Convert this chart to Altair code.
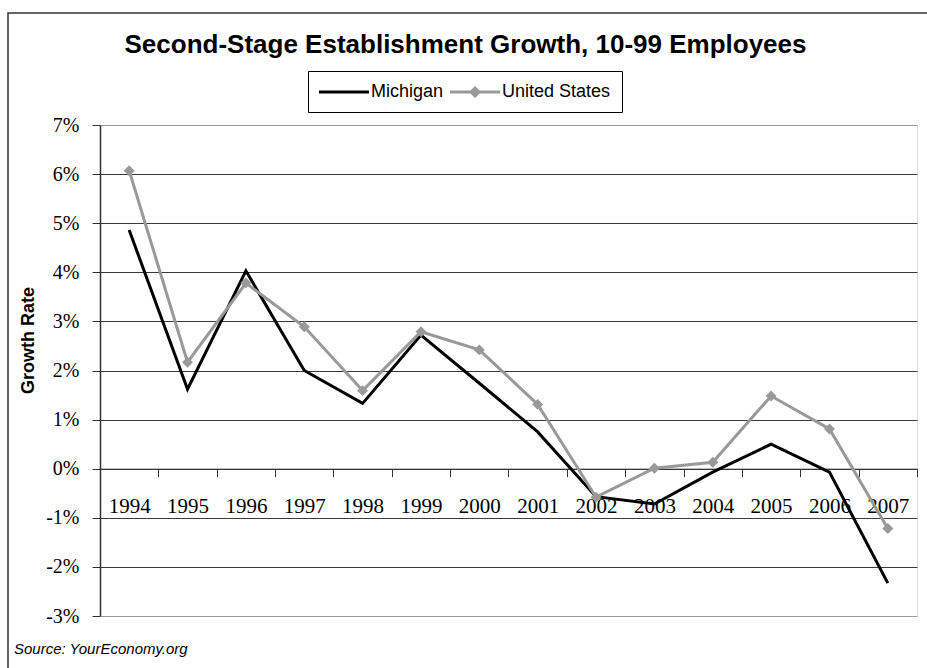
import altair as alt
import pandas as pd

years = [str(y) for y in range(1994, 2008)]
michigan = [4.86, 1.62, 4.03, 2.00, 1.33, 2.72, 1.74, 0.75, -0.57, -0.72, -0.07, 0.50, -0.07, -2.33]
united_states = [6.07, 2.17, 3.78, 2.89, 1.59, 2.79, 2.42, 1.31, -0.58, 0.01, 0.13, 1.48, 0.81, -1.22]
series_names = ["Michigan", "United States"]
series_colors = ["#000000", "#999999"]
y_ticks = list(range(-3, 8))
title_text = "Second-Stage Establishment Growth, 10-99 Employees"
y_title = "Growth Rate"
source_text = "Source: YourEconomy.org"

rows = []
for i, yr in enumerate(years):
    rows.append({"year": yr, "series": series_names[0], "value": michigan[i]})
    rows.append({"year": yr, "series": series_names[1], "value": united_states[i]})
df = pd.DataFrame(rows)

W, H = 817, 491
PL, PT = 100, 125

x_scale = alt.Scale(type="band", domain=years, paddingInner=0, paddingOuter=0)
y_scale = alt.Scale(domain=[-3, 7], nice=False, zero=False)
color_scale = alt.Scale(domain=series_names, range=series_colors)

grid_color = {"condition": {"test": "datum.value == 7 || datum.value == -3", "value": "#9a9a9a"},
              "value": "#3a3a3a"}

x_axis = alt.Axis(title=None, offset=-(H * 0.3), tickBand="extent", tickSize=8, tickColor="#333333",
                  domainColor="#333333", domainWidth=1, labelAngle=0, labelFont="Liberation Serif",
                  labelFontSize=21, labelColor="black", labelBaseline="alphabetic", labelPadding=36,
                  labelOverlap=False, grid=False)
y_axis = alt.Axis(title=y_title, values=y_ticks, labelExpr="datum.value + '%'", tickSize=8,
                  tickColor="#333333", domainColor="#333333", domainWidth=1.5,
                  labelFont="Liberation Serif", labelFontSize=20, labelColor="black", labelPadding=13,
                  gridColor=grid_color, gridWidth=1, titleFont="Liberation Sans", titleFontSize=18,
                  titleFontWeight="bold", titleColor="black", titleAngle=270, titleX=-67, titleY=215,
                  titleAlign="center", titleBaseline="alphabetic")

X = alt.X("year:O", scale=x_scale, axis=x_axis)
Y = alt.Y("value:Q", scale=y_scale, axis=y_axis)

line_mi = alt.Chart(df).transform_filter(
    alt.datum.series == series_names[0]
).mark_line(strokeWidth=3, color=series_colors[0]).encode(x=X, y=Y)

line_us = alt.Chart(df).transform_filter(
    alt.datum.series == series_names[1]
).mark_line(strokeWidth=3, color=series_colors[1]).encode(x=X, y=Y)

diamonds = alt.Chart(df).transform_filter(
    alt.datum.series == series_names[1]
).mark_point(shape="diamond", filled=True, size=120, opacity=1, color=series_colors[1]).encode(
    x=X, y=Y,
)

# legend symbols: r = sqrt(400)/2 = 10 px per unit; symbol spans 0..50 px from its entry start
line_path = "M-1,-0.15L4,-0.15L4,0.15L-1,0.15Z"
diamond_path = "M-1,-0.15L4,-0.15L4,0.15L-1,0.15Z M0.9,0L1.5,-0.6L2.1,0L1.5,0.6Z"
legend = alt.Legend(title=None, orient="none", legendX=208, legendY=-54, direction="horizontal",
                    strokeColor="black", fillColor="white", padding=11, labelFont="Liberation Sans",
                    labelFontSize=18, labelColor="black", labelOffset=32, columnPadding=6,
                    symbolOpacity=1, symbolStrokeWidth=0, symbolSize=400)
legend_layer = alt.Chart(df).mark_point(filled=True, opacity=0, size=400).encode(
    x=X, y=Y,
    color=alt.Color("series:N", scale=color_scale, legend=legend),
    shape=alt.Shape("series:N", scale=alt.Scale(domain=series_names, range=[line_path, diamond_path]),
                    legend=legend),
)

one = pd.DataFrame({"k": [0]})
border = alt.Chart(one).mark_rect(fill=None, stroke="#333333", strokeWidth=1.5).encode(
    x=alt.value(8 - PL), x2=alt.value(932 - PL), y=alt.value(13 - PT), y2=alt.value(675 - PT)
)
source = alt.Chart(one).mark_text(text=source_text, font="Liberation Sans", fontSize=15,
                                  fontStyle="italic", align="left", baseline="alphabetic",
                                  color="black").encode(
    x=alt.value(14 - PL), y=alt.value(654 - PT)
)

chart = alt.layer(border, line_mi, line_us, diamonds, legend_layer, source).properties(
    width=W, height=H,
    title=alt.TitleParams(title_text, font="Liberation Sans", fontSize=26, fontWeight="bold",
                          color="black", anchor="middle", frame="group", dx=-43, baseline="alphabetic",
                          offset=0, dy=67),
    autosize=alt.AutoSizeParams(type="none"),
    padding={"left": PL, "top": PT, "right": 10, "bottom": 52},
).configure_view(stroke="#9a9a9a", strokeWidth=2).configure(background="white")

chart.save("out.html", embed_options={"renderer": "svg", "actions": False})
